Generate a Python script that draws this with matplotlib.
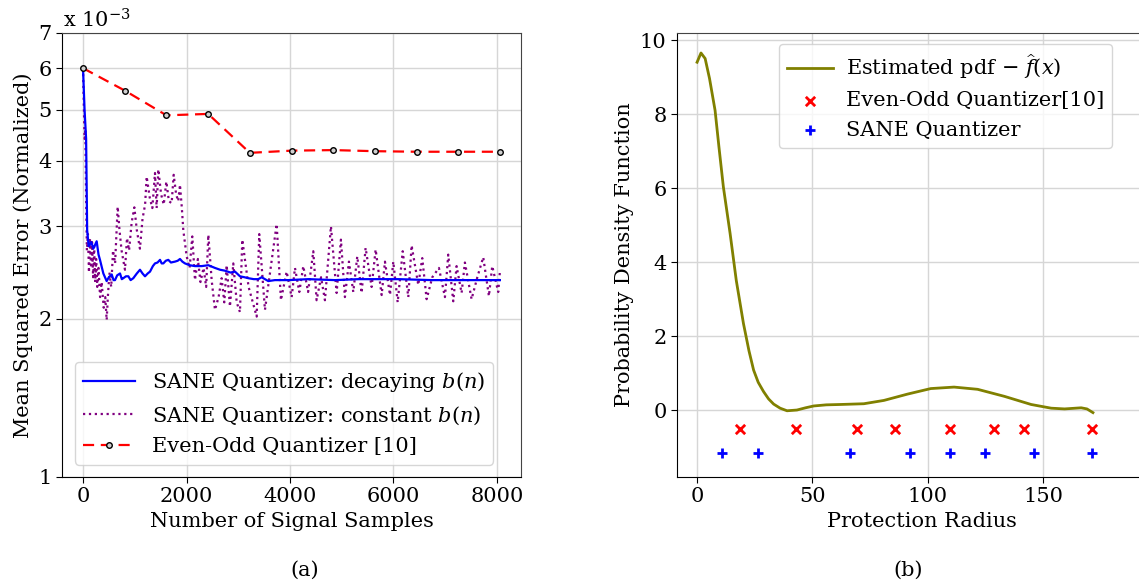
import matplotlib
matplotlib.use("Agg")
import matplotlib.pyplot as plt
from matplotlib.ticker import NullLocator, NullFormatter

# ---- panel (a): MSE vs number of samples (values in units of 1e-3) ----
eo_x = [0, 806, 1612, 2418, 3224, 4030, 4836, 5642, 6448, 7254, 8060]
eo_y = [6.0, 5.44, 4.88, 4.91, 4.14, 4.18, 4.19, 4.17, 4.16, 4.16, 4.16]

dec_x = [0, 30, 60, 80, 110, 160, 200, 264, 300, 328, 393, 457, 500, 554, 590, 618, 660,
         715, 750, 779, 830, 876, 920, 972, 1040, 1101, 1150, 1198, 1250, 1295, 1350, 1391,
         1440, 1488, 1520, 1552, 1600, 1648, 1700, 1777, 1830, 1874, 1920, 1971, 2060, 2164,
         2230, 2293, 2422, 2550, 2650, 2743, 2850, 2937, 3033, 3120, 3194, 3300, 3387, 3452,
         3580, 3709, 3967, 4353, 4869, 5320, 5642, 6092, 6736, 7380, 8056]
dec_y = [6.0, 5.0, 4.4, 2.95, 2.75, 2.8, 2.72, 2.81, 2.65, 2.59, 2.44, 2.36, 2.40, 2.43, 2.37,
         2.37, 2.42, 2.44, 2.38, 2.39, 2.41, 2.41, 2.37, 2.39, 2.44, 2.48, 2.44, 2.41, 2.44,
         2.46, 2.52, 2.55, 2.56, 2.59, 2.55, 2.55, 2.58, 2.59, 2.56, 2.57, 2.58, 2.60, 2.57,
         2.55, 2.53, 2.52, 2.52, 2.52, 2.53, 2.50, 2.48, 2.47, 2.45, 2.46, 2.41, 2.40, 2.39,
         2.38, 2.38, 2.40, 2.36, 2.37, 2.37, 2.38, 2.37, 2.38, 2.38, 2.38, 2.37, 2.37, 2.37]

const_x = [0, 15, 30, 45, 60, 75, 95, 115, 135, 155, 175, 195, 215, 235, 255, 275, 300, 330,
           360, 400, 430, 457, 480, 510, 545, 580, 620, 670, 705, 745, 811, 850, 890, 940, 992,
           1040, 1100, 1150, 1200, 1230, 1290, 1340, 1391, 1423, 1455, 1510, 1560, 1610, 1660,
           1713, 1752, 1800, 1840, 1874, 1910, 1938, 2003, 2060, 2112, 2164, 2220, 2270, 2330,
           2380, 2422, 2486, 2550, 2620, 2679, 2730, 2776, 2840, 2904, 2970, 3033, 3078, 3200,
           3356, 3406, 3516, 3742, 3825, 3935, 4032, 4096, 4180, 4257, 4350, 4450, 4514, 4600,
           4675, 4791, 4901, 4984, 5061, 5139, 5223, 5300, 5384, 5461, 5577, 5655, 5771, 5835,
           5932, 5996, 6081, 6178, 6286, 6350, 6479, 6556, 6640, 6750, 6878, 6994, 7058, 7155,
           7219, 7316, 7380, 7509, 7620, 7734, 7844, 7908, 8024, 8056]
const_y = [6.0, 5.1, 4.4, 4.6, 3.4, 2.7, 2.9, 2.45, 2.85, 2.5, 2.8, 2.4, 2.75, 2.35, 2.6, 2.3,
           2.5, 2.2, 2.35, 2.1, 2.2, 1.99, 2.2, 2.45, 2.3, 2.7, 2.55, 3.27, 2.95, 2.7, 2.48, 2.85,
           2.7, 3.05, 3.26, 2.95, 2.72, 3.1, 3.3, 3.73, 3.4, 3.25, 3.79, 3.25, 3.85, 3.45, 3.3,
           3.65, 3.35, 3.32, 3.76, 3.45, 3.35, 3.6, 3.25, 2.95, 2.63, 2.5, 2.87, 2.37, 2.6, 2.35,
           2.5, 2.3, 2.89, 2.37, 2.08, 2.2, 2.39, 2.15, 2.53, 2.11, 2.55, 2.15, 2.06, 2.83, 2.3,
           2.02, 2.90, 2.08, 3.03, 2.17, 2.46, 2.20, 2.50, 2.25, 2.52, 2.25, 2.69, 2.17, 2.4,
           2.17, 3.00, 2.24, 2.83, 2.20, 2.57, 2.25, 2.63, 2.24, 2.73, 2.30, 2.71, 2.22, 2.57,
           2.22, 2.57, 2.15, 2.69, 2.20, 2.76, 2.32, 2.61, 2.18, 2.4, 2.50, 2.20, 2.65, 2.16,
           2.52, 2.24, 2.56, 2.18, 2.4, 2.62, 2.21, 2.52, 2.25, 2.46]

mse_ticks = [1, 2, 3, 4, 5, 6, 7]

# ---- panel (b): estimated pdf and quantizer levels ----
pdf_x = [0, 1.7, 3.5, 5.4, 7.8, 9.5, 11.4, 14.3, 17.0, 20.1, 22.5, 24.5, 26.5, 28.8, 31, 33.2,
         36, 39, 43.3, 47, 50.6, 56, 62.2, 72.3, 81, 91.2, 101.3, 111.4, 121.6, 133.2, 144.8,
         153.5, 159.3, 166.5, 169, 171.6]
pdf_y = [9.40, 9.65, 9.5, 8.96, 8.1, 7.1, 6.03, 4.78, 3.5, 2.34, 1.6, 1.08, 0.75, 0.50, 0.30,
         0.16, 0.05, -0.02, 0.0, 0.06, 0.11, 0.14, 0.15, 0.17, 0.26, 0.43, 0.58, 0.62, 0.56,
         0.37, 0.15, 0.05, 0.03, 0.06, 0.03, -0.07]
eo_levels = [18.4, 42.8, 69.4, 85.7, 109.7, 128.6, 141.6, 171.4]
sane_levels = [10.9, 26.4, 66.2, 92.5, 109.6, 124.8, 146.0, 171.4]
eo_level_y = -0.5
sane_level_y = -1.15

FS = 15
plt.rcParams.update({"font.family": "DejaVu Serif", "font.size": FS,
                     "mathtext.fontset": "dejavuserif"})
GRID = "#d6d6d6"

fig = plt.figure(figsize=(11.39, 5.88), dpi=100)
W, H = 1139, 588
ax1 = fig.add_axes([62 / W, 1 - 477 / H, 459 / W, 444 / H])
ax2 = fig.add_axes([677 / W, 1 - 477 / H, 490 / W, 444 / H])

# (a)
ax1.plot(dec_x, dec_y, color="#0000ff", lw=1.6, zorder=3, label=r"SANE Quantizer: decaying $b(n)$")
ax1.plot(const_x, const_y, color="#800080", lw=1.6, ls=":", zorder=2,
         label=r"SANE Quantizer: constant $b(n)$")
ax1.plot(eo_x, eo_y, color="#ff0000", lw=1.6, ls=(0, (5, 3)), marker="o", ms=4,
         mfc="#d0d0d0", mec="black", mew=1.0, zorder=4, label="Even-Odd Quantizer [10]")
ax1.set_yscale("log")
ax1.set_ylim(1, 7)
ax1.set_xlim(-406, 8464)
ax1.set_yticks(mse_ticks)
ax1.set_yticklabels([str(t) for t in mse_ticks])
ax1.yaxis.set_minor_locator(NullLocator())
ax1.yaxis.set_minor_formatter(NullFormatter())
ax1.set_xticks([0, 2000, 4000, 6000, 8000])
ax1.set_xlabel("Number of Signal Samples")
ax1.set_ylabel("Mean Squared Error (Normalized)")
ax1.grid(True, color=GRID, lw=1)
ax1.set_axisbelow(True)
ax1.legend(loc="lower left", handlelength=2.5, fontsize=FS, framealpha=0.8,
           edgecolor="#cccccc", borderaxespad=0.6)
fig.text(63 / W, 1 - 27 / H, r"x $10^{-3}$", fontsize=FS, va="baseline")

# (b)
ax2.plot(pdf_x, pdf_y, color="#808000", lw=2, label=r"Estimated pdf $-$ $\widehat{f}(x)$")
ax2.scatter(eo_levels, [eo_level_y] * len(eo_levels), marker="x", color="#ff0000", s=45,
            linewidths=2, label="Even-Odd Quantizer[10]", zorder=3)
ax2.scatter(sane_levels, [sane_level_y] * len(sane_levels), marker="+", color="#0000ff", s=50,
            linewidths=2, label="SANE Quantizer", zorder=3)
ax2.set_xlim(-8.7, 203.7)
ax2.set_ylim(-1.81, 10.19)
ax2.set_xticks([0, 50, 100, 150])
ax2.set_yticks([0, 2, 4, 6, 8, 10])
ax2.set_xlabel("Protection Radius")
ax2.set_ylabel("Probability Density Function")
ax2.grid(True, color=GRID, lw=1)
ax2.set_axisbelow(True)
ax2.legend(loc="upper left", bbox_to_anchor=(0.208, 0.975), borderaxespad=0, scatterpoints=1,
           handlelength=2.2, handletextpad=0.6, fontsize=FS, framealpha=0.8,
           edgecolor="#cccccc")

for ax in (ax1, ax2):
    ax.spines["top"].set_color("#444444")
    ax.spines["right"].set_color("#444444")
    ax.tick_params(direction="out", length=4, labelsize=FS)

fig.text(305 / W, 1 - 570 / H, "(a)", ha="center", va="center", fontsize=FS)
fig.text(908 / W, 1 - 570 / H, "(b)", ha="center", va="center", fontsize=FS)

fig.savefig("out.png", dpi=100)
